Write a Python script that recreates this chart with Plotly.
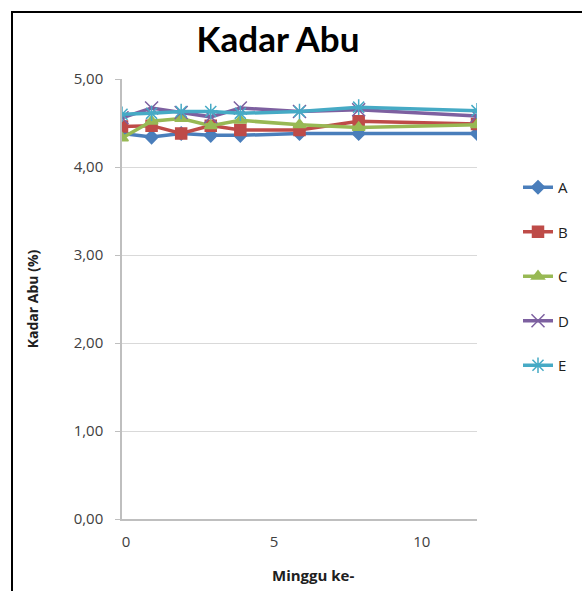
import plotly.graph_objects as go

weeks = [0, 1, 2, 3, 4, 6, 8, 12]
series_names = ["A", "B", "C", "D", "E"]
A = [4.38, 4.34, 4.38, 4.36, 4.36, 4.38, 4.38, 4.38]
B = [4.46, 4.47, 4.38, 4.47, 4.42, 4.42, 4.52, 4.49]
C = [4.33, 4.52, 4.55, 4.47, 4.53, 4.48, 4.45, 4.48]
D = [4.56, 4.67, 4.62, 4.57, 4.67, 4.63, 4.65, 4.58]
E = [4.60, 4.61, 4.63, 4.63, 4.61, 4.63, 4.68, 4.64]
values = [A, B, C, D, E]

y_tickvals = [0, 1, 2, 3, 4, 5]
y_ticktext = ["0,00", "1,00", "2,00", "3,00", "4,00", "5,00"]
x_tickvals = [0, 5, 10]
x_ticktext = ["0", "5", "10"]

colors = ["#4A7EBB", "#BE4B48", "#98B954", "#7D60A0", "#46AAC5"]
symbols = ["diamond", "square", "triangle-up", "x-thin-open", "asterisk-open"]
msizes = [10, 11, 11, 13, 13]

fig = go.Figure()
for name, vals, col, sym, ms in zip(series_names, values, colors, symbols, msizes):
    fig.add_trace(go.Scatter(
        x=weeks, y=vals, name=name, mode="lines+markers",
        legendgroup=name,
        line=dict(color=col, width=3.5),
        marker=dict(symbol=sym, size=ms, color=col, line=dict(color=col, width=1.5)),
    ))

W, H = 582, 591
L, R, T, Bm = 122, 105, 79, 72
pw, ph = W - L - R, H - T - Bm

fig.update_layout(
    width=W, height=H,
    margin=dict(l=L, r=R, t=T, b=Bm, autoexpand=False),
    paper_bgcolor="white", plot_bgcolor="white",
    font=dict(family="Open Sans, DejaVu Sans, sans-serif", color="#404040"),
    title=dict(text="<b>Kadar Abu</b>", x=278 / W, xanchor="center",
               y=1 - 40 / H, yanchor="middle",
               font=dict(family="Lato, Open Sans, sans-serif", size=35, color="black")),
    showlegend=True,
    legend=dict(x=(518 - L) / pw, xanchor="left", y=1 - (182 - T - 11) / ph, yanchor="top",
                tracegroupgap=22, font=dict(size=15, color="#202020"),
                bgcolor="rgba(0,0,0,0)", itemsizing="trace"),
    xaxis=dict(range=[0, 12], tickvals=x_tickvals, ticktext=x_ticktext,
               showgrid=False, zeroline=False, showline=True, linecolor="#BFBFBF", linewidth=1.5,
               ticks="", tickfont=dict(size=15, color="#404040"),
               ticklabelstandoff=8, ticklabelshift=4),
    yaxis=dict(range=[0, 5], tickvals=y_tickvals, ticktext=y_ticktext,
               showgrid=True, gridcolor="#D9D9D9", gridwidth=1.2, zeroline=False,
               showline=True, linecolor="#BFBFBF", linewidth=1.5,
               ticks="outside", ticklen=5, tickcolor="#BFBFBF",
               tickfont=dict(size=15, color="#404040"), ticklabelstandoff=9,
               title=dict(text="<b>Kadar Abu (%)</b>", font=dict(size=14, color="#202020"), standoff=32)),
    annotations=[dict(text="<b>Minggu ke-</b>", xref="paper", yref="paper",
                      x=(313 - L) / pw, y=(H - Bm - 575) / ph, xanchor="center", yanchor="middle",
                      showarrow=False, font=dict(size=15, color="#202020"))],
    shapes=[dict(type="rect", xref="paper", yref="paper",
                 x0=(12 - L) / pw, x1=(W + 20 - L) / pw,
                 y0=(H - Bm - (H + 20)) / ph, y1=(H - Bm - 12) / ph,
                 line=dict(color="black", width=2), fillcolor="rgba(0,0,0,0)", layer="below")],
)

fig.write_html("out.html")
